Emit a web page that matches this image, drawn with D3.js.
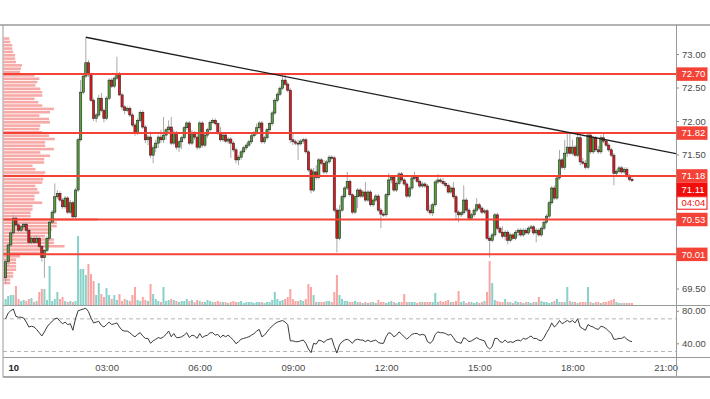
<!DOCTYPE html>
<html>
<head>
<meta charset="utf-8">
<script src="https://cdn.jsdelivr.net/npm/d3@7"></script>
<style>
  body { margin: 0; background: #fff; }
  svg { display: block; font-family: "Liberation Sans", Arial, sans-serif; }
</style>
</head>
<body>
<svg id="chart"></svg>
<script>
// 5 minute candles, first one at 23:45 on the 9th
const firstCandle = '2020-03-09T23:45:00Z';
const candleMinutes = 5;

// [open, high, low, close]
const ohlc = [
  [69.66,69.93,69.58,69.90],[69.90,70.18,69.85,70.15],[70.15,70.37,70.12,70.33],[70.33,70.60,70.30,70.55],[70.55,70.58,70.42,70.45],
  [70.45,70.48,70.33,70.37],[70.37,70.45,70.34,70.42],[70.42,70.49,70.39,70.46],[70.46,70.49,70.34,70.37],[70.37,70.40,70.16,70.19],
  [70.19,70.28,70.16,70.25],[70.25,70.28,70.16,70.19],[70.19,70.30,70.18,70.25],[70.25,70.27,70.10,70.13],[70.13,70.15,69.90,69.96],
  [69.96,70.09,69.66,70.07],[70.07,70.28,70.04,70.25],[70.25,70.52,70.22,70.49],[70.49,70.67,70.46,70.64],[70.64,71.07,70.61,70.87],
  [70.87,70.97,70.84,70.92],[70.92,70.95,70.79,70.82],[70.82,70.85,70.69,70.72],[70.72,70.88,70.69,70.85],[70.85,70.88,70.61,70.64],
  [70.64,70.82,70.61,70.78],[70.78,70.81,70.54,70.57],[70.57,71.00,70.54,70.97],[70.97,71.75,70.94,71.72],[71.72,72.61,71.69,72.43],
  [72.43,72.70,72.40,72.67],[72.67,73.25,72.64,72.87],[72.87,72.91,72.66,72.69],[72.69,72.72,72.28,72.31],[72.31,72.34,72.00,72.04],
  [72.04,72.12,71.98,72.09],[72.09,72.39,72.06,72.34],[72.34,72.42,72.13,72.16],[72.16,72.19,71.98,72.04],[72.04,72.37,72.01,72.34],
  [72.34,72.64,72.31,72.61],[72.61,72.64,72.49,72.52],[72.52,72.67,72.49,72.64],[72.64,72.96,72.61,72.70],[72.70,72.73,72.37,72.39],
  [72.39,72.42,72.16,72.21],[72.21,72.24,72.10,72.16],[72.16,72.22,72.13,72.19],[72.19,72.22,72.06,72.09],[72.09,72.12,71.91,71.94],
  [71.94,71.97,71.78,71.82],[71.82,72.04,71.79,72.01],[72.01,72.16,71.98,72.13],[72.13,72.16,71.88,71.91],[71.91,71.94,71.67,71.72],
  [71.72,71.79,71.64,71.76],[71.76,71.84,71.45,71.49],[71.49,71.64,71.37,71.60],[71.60,71.72,71.54,71.67],[71.67,71.79,71.60,71.76],
  [71.76,71.87,71.67,71.72],[71.72,72.06,71.67,71.79],[71.79,71.90,71.72,71.87],[71.87,72.01,71.82,71.91],[71.91,72.06,71.64,71.67],
  [71.67,71.87,71.64,71.82],[71.82,71.85,71.57,71.61],[71.61,71.72,71.54,71.69],[71.69,71.78,71.58,71.75],[71.75,71.93,71.72,71.90],
  [71.90,72.00,71.87,71.97],[71.97,72.00,71.64,71.67],[71.67,71.87,71.64,71.82],[71.82,71.85,71.72,71.76],[71.76,71.82,71.57,71.61],
  [71.61,72.00,71.58,71.97],[71.97,72.00,71.60,71.64],[71.64,71.82,71.61,71.79],[71.79,71.90,71.75,71.87],[71.87,72.01,71.84,71.98],
  [71.98,72.04,71.96,72.01],[72.01,72.04,71.93,71.96],[71.96,71.98,71.79,71.82],[71.82,71.91,71.69,71.72],[71.72,71.82,71.69,71.79],
  [71.79,71.82,71.67,71.70],[71.70,71.76,71.66,71.73],[71.73,71.76,71.45,71.67],[71.67,71.70,71.54,71.57],[71.57,71.60,71.37,71.42],
  [71.42,71.49,71.34,71.46],[71.46,71.57,71.42,71.54],[71.54,71.63,71.51,71.60],[71.60,71.67,71.57,71.64],[71.64,71.72,71.61,71.69],
  [71.69,71.81,71.66,71.78],[71.78,71.85,71.75,71.82],[71.82,71.96,71.79,71.90],[71.90,72.00,71.87,71.97],[71.97,72.00,71.66,71.69],
  [71.69,71.78,71.66,71.75],[71.75,71.90,71.72,71.87],[71.87,71.98,71.84,71.96],[71.96,72.15,71.93,72.12],[72.12,72.34,72.09,72.31],
  [72.31,72.43,72.28,72.40],[72.40,72.52,72.37,72.49],[72.49,72.72,72.46,72.61],[72.61,72.72,72.52,72.55],[72.55,72.58,72.43,72.46],
  [72.46,72.49,71.67,71.72],[71.72,71.82,71.64,71.69],[71.69,71.72,71.64,71.67],[71.67,71.72,71.42,71.66],[71.66,71.73,71.63,71.70],
  [71.70,71.75,71.66,71.72],[71.72,71.75,71.51,71.54],[71.54,71.57,71.24,71.27],[71.27,71.30,70.92,70.97],[70.97,71.30,70.94,71.24],
  [71.24,71.34,71.12,71.16],[71.16,71.45,71.13,71.42],[71.42,71.45,71.34,71.37],[71.37,71.42,71.21,71.24],[71.24,71.42,71.21,71.39],
  [71.39,71.49,71.36,71.46],[71.46,71.49,71.42,71.45],[71.45,71.48,70.64,70.67],[70.67,70.70,70.04,70.25],[70.25,70.75,70.22,70.67],
  [70.67,70.90,70.64,70.87],[70.87,71.03,70.84,71.00],[71.00,71.24,70.97,71.10],[71.10,71.13,70.87,70.90],[70.90,70.92,70.61,70.64],
  [70.64,70.90,70.61,70.87],[70.87,71.00,70.70,70.97],[70.97,71.00,70.85,70.88],[70.88,70.97,70.85,70.94],[70.94,71.09,70.79,70.82],
  [70.82,70.97,70.79,70.94],[70.94,70.97,70.72,70.75],[70.75,70.85,70.72,70.82],[70.82,70.91,70.79,70.88],[70.88,70.91,70.64,70.67],
  [70.67,70.70,70.40,70.61],[70.61,70.64,70.57,70.60],[70.60,70.92,70.57,70.90],[70.90,71.22,70.87,71.12],[71.12,71.19,71.07,71.16],
  [71.16,71.19,70.94,70.97],[70.97,71.10,70.94,71.07],[71.07,71.24,71.04,71.21],[71.21,71.24,71.09,71.12],[71.12,71.15,71.03,71.06],
  [71.06,71.09,70.85,70.88],[70.88,71.03,70.85,71.00],[71.00,71.18,70.97,71.15],[71.15,71.24,71.12,71.16],[71.16,71.19,71.07,71.10],
  [71.10,71.13,71.00,71.03],[71.03,71.09,71.00,71.06],[71.06,71.09,71.00,71.03],[71.03,71.06,70.64,70.67],[70.67,70.75,70.60,70.63],
  [70.63,70.78,70.58,70.75],[70.75,71.12,70.72,71.09],[71.09,71.21,71.06,71.12],[71.12,71.15,71.07,71.10],[71.10,71.15,71.04,71.07],
  [71.07,71.10,71.01,71.04],[71.04,71.07,70.91,70.94],[70.94,71.03,70.91,71.00],[71.00,71.09,70.84,70.87],[70.87,70.90,70.52,70.64],
  [70.64,70.67,70.49,70.60],[70.60,70.66,70.57,70.63],[70.63,71.04,70.60,70.82],[70.82,70.85,70.64,70.67],[70.67,70.70,70.52,70.55],
  [70.55,70.63,70.52,70.60],[70.60,70.70,70.57,70.67],[70.67,70.85,70.64,70.75],[70.75,70.78,70.67,70.70],[70.70,70.73,70.61,70.64],
  [70.64,70.69,70.61,70.66],[70.66,70.69,70.22,70.25],[70.25,70.28,69.96,70.22],[70.22,70.33,70.19,70.30],[70.30,70.63,70.27,70.60],
  [70.60,70.63,70.37,70.40],[70.40,70.43,70.31,70.34],[70.34,70.43,70.25,70.28],[70.28,70.37,70.22,70.34],[70.34,70.37,70.16,70.22],
  [70.22,70.33,70.19,70.30],[70.30,70.33,70.22,70.25],[70.25,70.37,70.22,70.34],[70.34,70.40,70.28,70.37],[70.37,70.40,70.27,70.30],
  [70.30,70.40,70.27,70.37],[70.37,70.40,70.30,70.33],[70.33,70.43,70.30,70.40],[70.40,70.45,70.34,70.42],[70.42,70.45,70.30,70.33],
  [70.33,70.40,70.19,70.37],[70.37,70.40,70.27,70.30],[70.30,70.43,70.27,70.40],[70.40,70.52,70.37,70.49],[70.49,70.61,70.46,70.58],
  [70.58,70.81,70.55,70.78],[70.78,71.03,70.75,71.00],[71.00,71.04,70.82,70.85],[70.85,71.18,70.82,71.15],[71.15,71.57,71.12,71.42],
  [71.42,71.45,71.28,71.31],[71.31,71.72,71.27,71.52],[71.52,71.82,71.46,71.61],[71.61,71.82,71.49,71.52],[71.52,71.72,71.49,71.61],
  [71.61,71.64,71.46,71.49],[71.49,71.82,71.46,71.75],[71.75,71.78,71.34,71.39],[71.39,71.45,71.34,71.37],[71.37,71.42,71.28,71.31],
  [71.31,71.82,71.28,71.79],[71.79,71.82,71.51,71.54],[71.54,71.78,71.51,71.75],[71.75,71.78,71.54,71.57],[71.57,71.63,71.51,71.54],
  [71.54,71.79,71.51,71.75],[71.75,71.81,71.67,71.70],[71.70,71.73,71.61,71.64],[71.64,71.67,71.54,71.57],[71.57,71.60,71.46,71.49],
  [71.49,71.52,71.04,71.22],[71.22,71.28,71.19,71.25],[71.25,71.33,71.22,71.30],[71.30,71.33,71.21,71.24],[71.24,71.31,71.21,71.28],
  [71.28,71.31,71.15,71.18],[71.18,71.21,71.10,71.13],[71.13,71.16,71.09,71.11]
];

// volume per candle (thousands)
const volumes = [
  6,9,10,10,19,6,4,5,4,6, 7,3,4,13,16,16,5,39,4,6, 13,6,8,4,3,4,3,4,69,36,
  36,30,41,31,24,10,22,11,8,17, 10,6,10,5,11,4,6,5,4,10, 18,5,4,8,5,4,21,11,6,4,
  3,18,4,5,6,5,4,3,4,4, 6,4,5,3,5,4,3,3,5,4, 3,3,4,3,3,3,2,3,4,3,
  3,4,2,3,3,3,2,3,3,3, 2,3,3,5,13,6,4,5,6,8, 16,6,4,4,5,4,6,21,18,10,
  3,3,3,3,4,4,3,13,30,10, 6,4,4,3,3,4,3,3,2,3, 2,3,3,2,5,3,3,2,3,4,
  3,2,3,3,11,3,3,3,3,2, 3,3,3,3,3,3,12,3,4,3, 4,5,3,3,4,14,3,4,2,3,
  3,2,3,2,3,4,13,44,22,5, 4,3,3,6,3,3,2,4,3,3, 2,3,3,2,3,3,8,4,3,3,
  2,3,4,6,3,3,3,18,4,3, 3,2,3,3,3,18,3,2,3,3, 2,3,3,4,5,6,3,2,2,2,
  2,2,2
];

// RSI(14) per candle
const rsiValues = [
  70,77,80,82,73,72,72,71,66,60, 61,60,57,53,49,54,60,64,67,70, 71,67,64,66,63,64,56,70,80,81,
  82,83,79,71,65,66,67,62,60,63, 66,63,64,65,60,56,55,55,53,50, 48,51,53,49,46,46,40,43,45,47,
  46,48,51,55,48,52,47,47,48,50, 53,47,50,49,46,52,47,49,50,53, 53,50,51,47,50,48,50,47,44,39.5,
  42,45,46,47,48,50,52,55,57,48, 50,54,58,61,64,66,67,68,66,63, 43,43,42,42,43,44,40,33,28.5,40,
  39,44,43,41,44,45,46,36,28,38, 42,44,45,43,40,44,45,44,44,42, 44,42,43,44,41,40,40,48,53,52,
  48,50,54,51,48,45,48,51,52,52, 50,51,50,42,40,43,51,54,53,53, 52,50,51,47,42,41,40,47,45,42,
  43,45,47,45,44,43,36,33,36,46, 46,42,41,44,41,42,41,43,44,43, 46,45,47,49,46,46,44,43,47,53,
  58,65,60,63,68,64,66,68,66,68, 65,70,60,58,56,63,61,60,58,57, 61,60,58,55,52,45,45,46,46,48,
  45,43,42
];

// session volume profile, rows of 0.05 from the top price down
const profileTop = 73.25;
const profileStep = 0.05;
const profile = [
  6,7,9,9,10,12,12,13,19,18, 17,32,37,35,33,38,40,40,32,36, 40,52,48,37,47,48,38,37,40,47,
  53,43,43,52,38,48,42,42,30,33, 43,42,41,40,33,35,37,32,32,40, 30,30,28,28,97,55,55,50,48,43,
  52,52,63,40,40,17,13,13,13,13, 10,10,7,7
];

const levels = [72.70, 71.82, 71.18, 70.53, 70.01];
const lastPrice = 71.11;
const countdown = '04:04';
const trendPoints = [['2020-03-10T02:20:00Z', 73.25], ['2020-03-10T18:05:00Z', 71.81]];

const priceTicks = [73.0, 72.5, 72.0, 71.5, 71.0, 70.5, 70.0, 69.5];
const rsiTicks = [80, 40];
const rsiBands = [70, 30];
const timeTicks = ['00:00', '03:00', '06:00', '09:00', '12:00', '15:00', '18:00', '21:00'];
const timeLabels = ['10', '03:00', '06:00', '09:00', '12:00', '15:00', '18:00', '21:00'];

const W = 710;
const H = 399;
const left = 3;
const right = 676;
const mainTop = 25;
const mainBottom = 305;
const rsiBottom = 357;
const axisBottom = 377;

const upFill = '#55a23a';
const downFill = '#e8161b';
const levelRed = '#f44336';

const svg = d3.select('#chart').attr('width', W).attr('height', H);

const day = new Date('2020-03-10T00:00:00Z');
const x = d3.scaleUtc()
  .domain([d3.utcMinute.offset(day, -20), d3.utcMinute.offset(day, 1280)])
  .range([left, right]);
const y = d3.scaleLinear().domain([69.254, 73.433]).range([mainBottom, mainTop]);
const yRsi = d3.scaleLinear().domain([23.2, 87]).range([rsiBottom, mainBottom]);
const hVol = d3.scaleLinear().domain([0, d3.max(volumes)]).range([0, 69]);
const wProf = d3.scaleLinear().domain([0, d3.max(profile)]).range([0, 94]);

const start = new Date(firstCandle);
const candles = ohlc.map((d, i) => ({
  t: d3.utcMinute.offset(start, i * candleMinutes),
  o: d[0], h: d[1], l: d[2], c: d[3],
  v: volumes[i],
  rsi: rsiValues[i],
}));

const defs = svg.append('defs');
defs.append('clipPath').attr('id', 'clip-main')
  .append('rect').attr('x', left).attr('y', mainTop)
  .attr('width', right - left).attr('height', mainBottom - mainTop);
defs.append('clipPath').attr('id', 'clip-rsi')
  .append('rect').attr('x', left).attr('y', mainBottom)
  .attr('width', right - left).attr('height', rsiBottom - mainBottom);

const main = svg.append('g').attr('clip-path', 'url(#clip-main)');

// volume profile on the left
main.append('g')
  .selectAll('rect')
  .data(profile)
  .join('rect')
  .attr('x', left + 0.5)
  .attr('y', (d, i) => y(profileTop - profileStep * i))
  .attr('width', d => wProf(d))
  .attr('height', (d, i) => y(profileTop - profileStep * (i + 1)) - y(profileTop - profileStep * i) - 0.8)
  .attr('fill', '#f7a9a7');

// volume bars
main.append('g')
  .selectAll('rect')
  .data(candles)
  .join('rect')
  .attr('x', d => x(d.t) - 1)
  .attr('width', 2)
  .attr('y', d => mainBottom - hVol(d.v))
  .attr('height', d => hVol(d.v))
  .attr('fill', d => (d.c >= d.o ? '#88d1c9' : '#f8a5a3'));

// candles
main.append('g')
  .selectAll('line')
  .data(candles)
  .join('line')
  .attr('x1', d => x(d.t))
  .attr('x2', d => x(d.t))
  .attr('y1', d => y(d.h))
  .attr('y2', d => y(d.l))
  .attr('stroke', '#a9a9a9')
  .attr('stroke-width', 1);

main.append('g')
  .selectAll('rect')
  .data(candles)
  .join('rect')
  .attr('x', d => x(d.t) - 1.1)
  .attr('width', 2.2)
  .attr('y', d => y(Math.max(d.o, d.c)))
  .attr('height', d => Math.max(1, Math.abs(y(d.o) - y(d.c))))
  .attr('fill', d => (d.c >= d.o ? upFill : downFill))
  .attr('stroke', '#262626')
  .attr('stroke-width', 0.6);

// horizontal levels
main.append('g')
  .selectAll('line')
  .data(levels)
  .join('line')
  .attr('x1', left)
  .attr('x2', right)
  .attr('y1', d => y(d))
  .attr('y2', d => y(d))
  .attr('stroke', levelRed)
  .attr('stroke-width', 2);

// trend line, extended to the right edge
const t0 = new Date(trendPoints[0][0]);
const t1 = new Date(trendPoints[1][0]);
const slope = (trendPoints[1][1] - trendPoints[0][1]) / (t1 - t0);
const tEnd = x.domain()[1];
main.append('line')
  .attr('x1', x(t0))
  .attr('y1', y(trendPoints[0][1]))
  .attr('x2', x(tEnd))
  .attr('y2', y(trendPoints[0][1] + slope * (tEnd - t0)))
  .attr('stroke', '#1e1e1e')
  .attr('stroke-width', 1.3);

// RSI pane
const rsiPane = svg.append('g').attr('clip-path', 'url(#clip-rsi)');
rsiPane.selectAll('line.band')
  .data(rsiBands)
  .join('line')
  .attr('class', 'band')
  .attr('x1', left)
  .attr('x2', right)
  .attr('y1', d => yRsi(d))
  .attr('y2', d => yRsi(d))
  .attr('stroke', '#b5b5b5')
  .attr('stroke-dasharray', '4,3');

rsiPane.append('path')
  .datum(candles)
  .attr('fill', 'none')
  .attr('stroke', '#3a3a3a')
  .attr('stroke-width', 1)
  .attr('d', d3.line().x(d => x(d.t)).y(d => yRsi(d.rsi)));

// price labels on the axis, pushed down when they overlap
const boxH = 13.5;
const labelItems = levels.map(v => ({ v, y: y(v), kind: 'level' }))
  .concat([{ v: lastPrice, y: y(lastPrice), kind: 'last' }])
  .sort((a, b) => a.y - b.y);
let prevBottom = -Infinity;
labelItems.forEach(d => {
  d.h = d.kind === 'last' ? boxH * 2 : boxH;
  d.top = Math.max(d.y - boxH / 2, prevBottom);
  prevBottom = d.top + d.h;
});

// tick labels hidden behind a label box are left out, as on the platform
const freeTicks = priceTicks.filter(v => !labelItems
  .some(d => y(v) > d.top - 5 && y(v) < d.top + d.h + 5));

// axes
const axisColor = '#888';
const textColor = '#4a4a4a';

const priceAxis = svg.append('g')
  .attr('transform', `translate(${right},0)`)
  .call(d3.axisRight(y).tickValues(freeTicks).tickSize(3).tickPadding(3).tickFormat(d3.format('.2f')));
priceAxis.select('.domain').remove();

const rsiAxis = svg.append('g')
  .attr('transform', `translate(${right},0)`)
  .call(d3.axisRight(yRsi).tickValues(rsiTicks).tickSize(3).tickPadding(3).tickFormat(d3.format('.2f')));
rsiAxis.select('.domain').remove();

const timeAxis = svg.append('g')
  .attr('transform', `translate(0,${rsiBottom + 11})`)
  .call(d3.axisBottom(x)
    .tickValues(timeTicks.map(s => new Date(`2020-03-10T${s}:00Z`)))
    .tickSize(0)
    .tickPadding(0)
    .tickFormat((d, i) => timeLabels[i]));
timeAxis.select('.domain').remove();
timeAxis.selectAll('text').attr('dy', '0.32em');

[priceAxis, rsiAxis, timeAxis].forEach(a => {
  a.attr('font-family', null).attr('font-size', 9.5);
  a.selectAll('line').attr('stroke', axisColor);
  a.selectAll('text').attr('fill', textColor);
});
timeAxis.selectAll('text').filter((d, i) => i === 0).attr('font-weight', 'bold').attr('fill', '#222');

// frame
const frame = svg.append('g').attr('stroke', '#9a9a9a').attr('fill', 'none');
frame.append('line').attr('x1', 0).attr('x2', W).attr('y1', mainTop).attr('y2', mainTop)
  .attr('stroke', '#b3b3b3').attr('stroke-width', 2);
frame.append('line').attr('x1', left).attr('x2', left).attr('y1', mainTop).attr('y2', axisBottom);
frame.append('line').attr('x1', right + 0.5).attr('x2', right + 0.5).attr('y1', mainTop).attr('y2', axisBottom);
frame.append('line').attr('x1', left).attr('x2', W).attr('y1', mainBottom + 0.5).attr('y2', mainBottom + 0.5);
frame.append('line').attr('x1', left).attr('x2', W).attr('y1', rsiBottom + 0.5).attr('y2', rsiBottom + 0.5);
frame.append('line').attr('x1', left).attr('x2', W).attr('y1', axisBottom).attr('y2', axisBottom)
  .attr('stroke', '#a8a8a8').attr('stroke-width', 2);

const labels = svg.append('g').attr('font-size', 9.5);
labelItems.forEach(d => {
  labels.append('rect')
    .attr('x', right + 0.5).attr('y', d.top)
    .attr('width', 31).attr('height', boxH)
    .attr('fill', d.kind === 'last' ? '#f20d0d' : levelRed);
  labels.append('text')
    .attr('x', right + 5.5).attr('y', d.top + boxH / 2)
    .attr('dy', '0.35em')
    .attr('fill', '#fff')
    .text(d3.format('.2f')(d.v));
  if (d.kind === 'last') {
    labels.append('rect')
      .attr('x', right + 1).attr('y', d.top + boxH + 0.5)
      .attr('width', 30).attr('height', boxH - 1)
      .attr('fill', '#fff').attr('stroke', '#f20d0d');
    labels.append('text')
      .attr('x', right + 5.5).attr('y', d.top + boxH * 1.5)
      .attr('dy', '0.35em')
      .attr('fill', '#f20d0d')
      .text(countdown);
  }
});
</script>
</body>
</html>
